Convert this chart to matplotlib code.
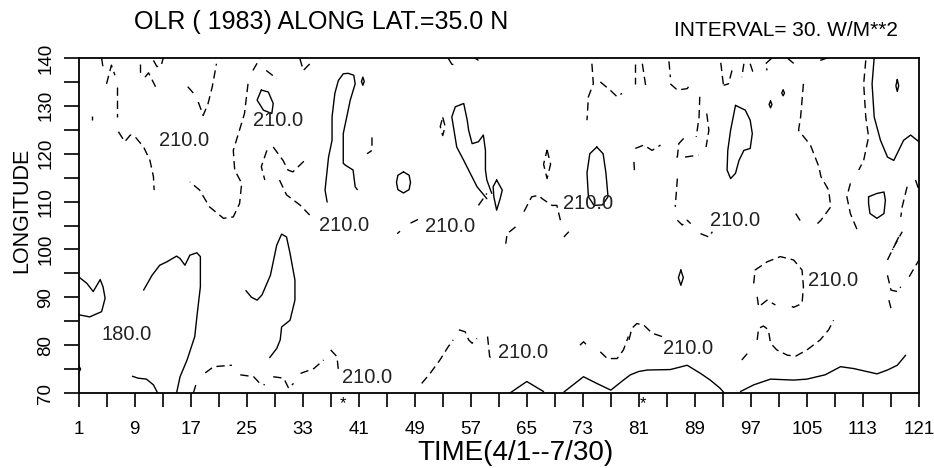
import matplotlib
matplotlib.use("Agg")
import matplotlib.pyplot as plt

FONT = ["Liberation Sans", "DejaVu Sans"]

# ---------------- data (time index, longitude) ----------------
# solid contours
s_left_blob = [(1, 94.3), (2.2, 92.9), (3.1, 91.2), (4.1, 93.7), (4.5, 92.2), (4.8, 89.8),
               (4.3, 87), (2.6, 85.9), (1.2, 86.3), (1, 86.5)]
s_left_tiny = [(1, 75.8), (1.3, 75), (1, 74.2)]
s_day10_18 = [(10.3, 91.5), (11.5, 94.6), (12.6, 96.7), (13.6, 97.4), (15, 98.6), (15.5, 98.1),
              (16.2, 96.7), (16.9, 98.8), (17.9, 99.3), (18.4, 98.5), (18.4, 92.2), (17.9, 85.9),
              (17.6, 81.8), (16.5, 76.9), (15.5, 73.4), (15, 70)]
s_day9_12 = [(8.7, 73.5), (9.5, 73.1), (10.7, 72.9), (11.7, 71.7), (12.3, 70)]
s_day25_32 = [(24.9, 91.4), (25.7, 90), (26.5, 89.4), (27.2, 90.5), (28.4, 94.6), (29.3, 100.9),
              (30, 103.2), (30.7, 102.6), (31.2, 99.2), (31.9, 93.6), (31.9, 89.4), (31.2, 85.2),
              (30, 83.8), (29.8, 81.1), (29.3, 79.3), (28.3, 77.4)]
s_loop_28 = [(27.1, 133.3), (28.1, 132.9), (28.8, 130.5), (28.6, 128.4), (27.4, 129.1),
             (26.5, 131.2), (27.1, 133.3)]
s_day36_41 = [(36.5, 109.9), (36.2, 112.4), (36.7, 119.3), (37.2, 122.8), (37.2, 127.7),
              (37.6, 132.6), (38.1, 135.3), (38.8, 136.7), (39.5, 136.8), (40.3, 136.4),
              (40.5, 134.6), (39.8, 131.2), (39.3, 127.7), (38.8, 124.2), (38.8, 118),
              (39.1, 117.6), (40.2, 116.6), (40.5, 113.1), (40.8, 112.5)]
s_loop_42 = [(41.4, 135.1), (41.6, 136), (41.8, 135.1), (41.6, 134.3), (41.4, 135.1)]
s_loop_47 = [(47.4, 116.2), (48.2, 115.5), (48.4, 114), (48.2, 112.5), (47.4, 111.8),
             (46.6, 112.5), (46.4, 114), (46.6, 115.5), (47.4, 116.2)]
s_day54_60 = [(59.3, 110.6), (57.9, 113.1), (56, 118.6), (55, 121.4), (54.3, 127.7), (54.8, 129.8),
              (56, 130.5), (56.5, 127), (56.7, 124.9), (57.2, 122.1), (58.1, 122.5), (58.8, 123.9),
              (59.1, 120.7), (59.1, 116.6), (59.3, 114.5), (60, 111.7)]
s_drop_61 = [(60.7, 114.5), (61.5, 112.4), (61.2, 110.6), (60.7, 108.2), (60.3, 111),
             (60.2, 113.1), (60.7, 114.5)]
s_loop_75 = [(75, 121.4), (75.9, 120), (76.3, 116), (76.6, 111), (75.8, 109.3), (74.6, 109.2),
             (73.8, 111), (73.6, 116), (74, 120), (75, 121.4)]
s_bump_65 = [(62.6, 70), (65, 72.4), (67.4, 70.3)]
s_bottom_70_93 = [(70.3, 70.2), (73.1, 73.4), (75, 72), (77, 70.6), (78.8, 72.7), (79.8, 73.8),
                  (81, 74.5), (82.2, 74.8), (85.5, 74.9), (87.9, 75.8), (89.8, 74.1),
                  (91.2, 72.7), (92.6, 71), (93.2, 70)]
s_bottom_95_119 = [(95.5, 70.3), (97.4, 71.7), (99.8, 72.9), (103.1, 72.7), (105, 72.9),
                   (107.6, 73.8), (109.8, 75.5), (111.7, 75.1), (115, 74), (116.5, 74.8),
                   (117.9, 75.8), (119.1, 77.9)]
s_loop_87 = [(87, 95.7), (87.35, 94.1), (87, 92.5), (86.65, 94.1), (87, 95.7)]
s_day94_97 = [(94.8, 130.1), (96.2, 129.1), (96.9, 127), (97.2, 124.2), (96.9, 121.1), (96, 120.7),
              (95.3, 118.6), (94.8, 115.9), (94.1, 114.8), (93.6, 116.6), (93.7, 120.7),
              (94.1, 124.9), (94.8, 130.1)]
s_loop_101 = [(101.6, 133.3), (101.8, 132.7), (101.6, 132.1), (101.4, 132.7), (101.6, 133.3)]
s_loop_100 = [(99.8, 131), (100, 130.3), (99.8, 129.6), (99.6, 130.3), (99.8, 131)]
s_day114_121 = [(114.6, 140), (114.3, 134.6), (114.6, 127.7), (115.5, 122.8), (116.5, 119.3),
                (117.4, 118.6), (118.8, 122.8), (119.8, 123.9), (121, 122.5)]
s_loop_118 = [(117.9, 135.5), (118.1, 134.2), (117.9, 133), (117.7, 134.2), (117.9, 135.5)]
s_loop_115 = [(113.8, 111), (115, 111.7), (116, 112), (116.2, 110.3), (116, 107.5), (115, 106.5),
              (114, 107.5), (113.8, 109.6), (113.8, 111)]

solid_contours = [s_left_blob, s_left_tiny, s_day10_18, s_day9_12, s_day25_32, s_loop_28,
                  s_day36_41, s_loop_42, s_loop_47, s_day54_60, s_drop_61, s_loop_75,
                  s_bump_65, s_bottom_70_93, s_bottom_95_119, s_loop_87, s_day94_97,
                  s_loop_101, s_loop_100, s_day114_121, s_loop_118, s_loop_115]

# dashed contours
dashed_contours = [
    [(4.3, 140), (4.5, 138)],
    [(5.0, 134.6), (5.7, 138.5), (6.2, 136.4)],
    [(6.5, 134), (6.5, 127.7)],
    [(9.8, 138.8), (9.8, 136.4)],
    [(10.5, 136), (11, 136.9), (12, 134)],
    [(11.7, 139.5), (12.2, 138.2), (12.8, 138.4), (13.1, 140)],
    [(16.6, 134), (17.8, 132)],
    [(18.1, 130.8), (18.8, 128), (19.5, 130.5), (20.1, 134), (20.7, 138.8)],
    [(25.9, 137.4), (26.9, 139.9)],
    [(27.8, 137.4), (29.3, 135.7)],
    [(32.6, 139.9), (33.1, 137.4), (34.3, 139.2)],
    [(25.2, 134.6), (24.7, 128.4), (24, 125), (23.1, 120.7), (23.3, 116.6), (24.3, 113.8),
     (24, 109.6), (23.1, 106.8), (21.7, 106.5), (19.7, 108.9), (18.3, 112.4), (16.9, 114.1)],
    [(6.7, 124.6), (7.6, 122.5), (8.4, 123.9), (9.1, 123.5), (10.3, 121.4), (11.2, 118.6),
     (11.7, 115.2), (11.8, 112.4)],
    [(2.9, 127.9), (2.9, 127)],
    [(27.9, 120.7), (27.1, 117.3), (27.6, 114.5)],
    [(28.8, 121.4), (30.2, 118.6), (30.9, 116.6), (31.6, 116.2), (33.3, 118.6)],
    [(29.7, 114.5), (30.7, 111.4), (32.6, 109.3), (34, 107.2)],
    [(17.4, 70), (17.9, 72.4)],
    [(19.1, 74.2), (20.3, 75.5), (22.9, 75.8)],
    [(24.1, 73.8), (26, 73.4), (26.9, 72), (27.6, 71.7)],
    [(28.8, 73.4), (30.3, 73.1), (31, 71), (31.7, 72)],
    [(32.7, 74.1), (34.6, 75.1), (36, 76.9)],
    [(37, 79), (37.9, 77.6), (38.1, 74.8)],
    [(53.8, 139.9), (54.3, 138.7), (54.9, 138.5)],
    [(57.6, 140), (58.1, 139.5)],
    [(42.9, 123.4), (42.9, 120.7), (42.2, 120)],
    [(53, 127.6), (53.35, 125.7), (53, 123.8), (52.65, 125.7), (53, 127.6)],
    [(58.1, 109.2), (59.3, 111.7)],
    [(67.9, 120.8), (68.4, 117.8), (67.9, 114.8), (67.4, 117.8), (67.9, 120.8)],
    [(74.3, 138.8), (74.5, 134.6), (73.8, 131.9), (73.6, 127)],
    [(75.5, 135), (76.9, 133.3), (77.9, 131.9), (78.6, 132.6)],
    [(64.6, 107.9), (65.7, 111), (66.7, 111.3), (67.2, 110.6), (68.6, 109.2), (69.3, 109.2),
     (69.8, 106.1)],
    [(63.4, 104.7), (62.2, 103.3), (62, 101.2)],
    [(70.3, 102.6), (71, 103.7)],
    [(46.5, 103.3), (46.9, 103.8)],
    [(48.4, 105.5), (49.8, 106.5)],
    [(80.5, 138.8), (80.5, 134.6)],
    [(81.5, 138.8), (82, 134)],
    [(85.3, 139.3), (85.5, 136)],
    [(85.5, 134.6), (86.5, 133.3), (87.9, 133.6), (88.4, 134.6)],
    [(92.7, 139), (93.1, 134)],
    [(94.3, 137.4), (93.8, 134.6), (93.1, 134.3)],
    [(96, 138.8), (95.7, 136)],
    [(96.9, 138.8), (97.3, 137)],
    [(100, 140), (99.1, 138.8), (99.3, 137.4)],
    [(102.2, 140), (103.4, 138.5)],
    [(106.9, 139.5), (107.9, 140)],
    [(104.5, 134.6), (104.1, 127.7), (103.8, 124.9), (105.5, 121.8), (106.7, 117.3), (107, 115.2),
     (108.1, 112.4), (108.4, 108.9), (107, 106.1), (106.5, 105.4)],
    [(103.4, 107.5), (104.3, 105.4)],
    [(113.4, 139.5), (113.1, 134.6), (113.4, 127.7), (113.8, 123.5), (113.1, 118.6), (112.4, 116.6)],
    [(111.2, 113.8), (110.7, 111), (111.2, 107.5), (112.2, 104)],
    [(120.5, 114.5), (121, 112.4)],
    [(119.3, 113.1), (118.6, 108.9), (118.4, 106.8)],
    [(118.1, 102.6), (117.2, 99.9)],
    [(89.7, 131.9), (89.6, 127.7), (89.2, 123.5)],
    [(90.7, 128.4), (91, 124.9), (90.6, 121.4)],
    [(80.5, 121.1), (81.7, 121.8), (82.9, 120.7), (84.1, 121.8)],
    [(80.3, 118.3), (80.4, 115.9)],
    [(87.4, 123.2), (86.7, 122.1), (86.5, 119.3), (86, 119.3)],
    [(87.6, 119.3), (89.5, 119.7)],
    [(86.5, 114.8), (86.2, 108.9)],
    [(86.5, 106.1), (87.2, 105.1), (87.9, 106.1), (88.4, 105.4)],
    [(89.8, 103.3), (91, 102.6), (91.5, 103.7)],
    [(50, 72), (51.2, 74.1), (52.6, 76.9), (53.8, 79.7), (54.5, 81.1)],
    [(55.3, 83.2), (56.2, 82.8), (56.7, 81.1), (57.2, 80.4), (57.9, 81.4)],
    [(59.4, 81.8), (59.7, 77.6), (60, 77.2)],
    [(72.6, 80), (73.1, 80.7), (73.8, 79.7)],
    [(75.5, 78.6), (76.5, 77.2), (77.9, 77.2), (78.8, 79), (79.5, 81.8)],
    [(79.6, 81.1), (80, 83.5), (80.7, 84.5), (81.7, 84.2), (82.9, 82.5), (84.3, 81.8)],
    [(97.4, 92.9), (97.6, 95.7), (99.3, 97.4), (101.2, 98.5), (103.1, 97.8), (104.3, 95.7),
     (104.5, 92.2), (104.3, 88.7), (103.1, 87.9), (102.4, 88.4)],
    [(97.9, 90.1), (98.1, 88), (99.3, 89.4), (100.5, 88.4)],
    [(97.9, 81.1), (98.1, 83.5), (98.8, 84), (99.5, 83.2), (99.8, 80.4), (100.7, 79), (102.2, 77.9),
     (103.4, 77.7), (105, 79), (106.9, 81.1), (108.1, 83.2), (108.8, 85.2)],
    [(95.7, 76.9), (96.7, 78.6)],
    [(116.5, 97.8), (117.4, 100.5), (118.6, 103.7)],
    [(116.5, 94.6), (117, 91.5), (117.9, 91.2), (118.4, 92.2)],
    [(116.7, 89.4), (117, 87.7)],
    [(119.6, 94.3), (121, 97.8)],
]

# contour labels
label_text = ["180.0", "210.0", "210.0", "210.0", "210.0", "210.0", "210.0", "210.0",
              "210.0", "210.0", "210.0"]
label_time = [7.8, 16.1, 29.5, 38.9, 54.1, 73.8, 94.7, 108.7, 42.2, 64.5, 88.0]
label_lon = [82.3, 122.8, 126.9, 105.1, 104.7, 109.6, 106.0, 93.6, 73.3, 78.4, 79.2]

# asterisk markers under the time axis
star_time = [38.8, 81.6]

x_ticks = list(range(1, 122, 8))
x_minor = list(range(5, 122, 8))
y_ticks = list(range(70, 141, 10))
y_minor = list(range(75, 141, 10))

# ---------------- drawing ----------------
W, H = 934, 468
fig = plt.figure(figsize=(W / 100, H / 100), dpi=100)
ax = fig.add_axes([78.5 / W, (H - 393) / H, 840.5 / W, 335 / H])

for c in solid_contours:
    ax.plot([p[0] for p in c], [p[1] for p in c], color="black", lw=1.0, solid_capstyle="round")
for c in dashed_contours:
    ax.plot([p[0] for p in c], [p[1] for p in c], color="black", lw=1.0,
            linestyle=(0, (6, 3.5)))

for s, t, l in zip(label_text, label_time, label_lon):
    ax.text(t, l, s, ha="center", va="center", fontsize=14.5, family=FONT, color="#222222")

for t in star_time:
    ax.annotate("*", xy=(t, 70), xycoords="data", xytext=(0, -7.5), textcoords="offset points",
                ha="center", va="center", fontsize=12, family=FONT, annotation_clip=False)

ax.set_xlim(1, 121)
ax.set_ylim(70, 140)
ax.set_xticks(x_ticks)
ax.set_xticks(x_minor, minor=True)
ax.set_yticks(y_ticks)
ax.set_yticks(y_minor, minor=True)
ax.set_xticklabels([str(v) for v in x_ticks], family=FONT, fontsize=13.5)
ax.set_yticklabels([str(v) for v in y_ticks], family=FONT, fontsize=13.5, rotation=90,
                   va="center")
ax.tick_params(axis="x", which="both", direction="out", length=10, width=1.2, color="black",
               pad=10)
ax.tick_params(axis="y", which="both", direction="out", length=11, width=1.2, color="black",
               pad=6.5)
for sp in ax.spines.values():
    sp.set_linewidth(1.3)

fig.text(22 / W, 1 - 210 / H, "LONGITUDE", rotation=90, ha="center", va="center",
         fontsize=15.5, family=FONT)
fig.text(516 / W, 1 - 453 / H, "TIME(4/1--7/30)", ha="center", va="center",
         fontsize=20, family=FONT)
fig.text(321 / W, 1 - 22 / H, "OLR ( 1983) ALONG LAT.=35.0 N", ha="center", va="center",
         fontsize=18, family=FONT)
fig.text(786 / W, 1 - 31 / H, "INTERVAL= 30. W/M**2", ha="center", va="center",
         fontsize=15, family=FONT)

fig.savefig("out.png", dpi=100)
